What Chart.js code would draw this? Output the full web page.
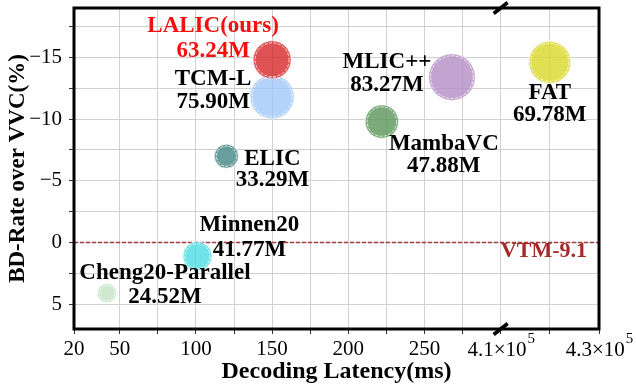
<!DOCTYPE html>
<html>
<head>
<meta charset="utf-8">
<script src="https://cdn.jsdelivr.net/npm/chart.js@4.4.1/dist/chart.umd.min.js"></script>
<style>
    html, body { margin: 0; padding: 0; background: #fff; }
    #wrap { width: 636px; height: 386px; }
</style>
</head>
<body>
<div id="wrap"><canvas id="chart" width="636" height="386"></canvas></div>
<script>
// 数据
const methods = ['Cheng20-Parallel', 'Minnen20', 'ELIC', 'TCM-L', 'MambaVC', 'MLIC++', 'FAT', 'LALIC(ours)'];
const params = ['24.52M', '41.77M', '33.29M', '75.90M', '47.88M', '83.27M', '69.78M', '63.24M'];
const latency = [41.6, 101, 120, 150, 222, 268, 420000, 150];      // ms
const bdRate = [4.1, 1.1, -7.0, -11.8, -9.8, -13.4, -14.6, -14.8];  // %
const bubbleR = [9.7, 14.5, 12, 22, 16.7, 23.3, 21, 19];
const vtmBdRate = 0;

// 刻度
const xTicks = [20, 50, 75, 100, 125, 150, 175, 200, 225, 250, 275, 410000, 420000, 430000];
const xTickLabels = ['20', '50', '', '100', '', '150', '', '200', '', '250', '', '4.1×10^5', '', '4.3×10^5'];
const yTicks = [-17.5, -15, -12.5, -10, -7.5, -5, -2.5, 0, 2.5, 5];
const yTickLabels = ['', '\u221215', '', '\u221210', '', '\u22125', '', '0', '', '5'];

// broken x axis: 300 ms on the left part meets 4.1e5 ms on the right part
const breakAt = 300, breakStart = 410000, breakEnd = 430000, breakWidth = 64.5;
function toAxis(v) {
    return v <= breakAt ? v : breakAt + (v - breakStart) / (breakEnd - breakStart) * breakWidth;
}

const colors = [
    'rgba(190, 225, 190, 0.75)',
    'rgba(75, 220, 225, 0.8)',
    'rgba(80, 140, 140, 0.85)',
    'rgba(160, 200, 250, 0.8)',
    'rgba(90, 150, 90, 0.8)',
    'rgba(180, 140, 195, 0.8)',
    'rgba(218, 215, 40, 0.8)',
    'rgba(214, 39, 40, 0.8)'
];
// label offsets from bubble centre: dx, dy line 1, dy line 2
const labelOffsets = [[58, -20, 4], [52, -31, -6], [46, 3, 24], [-59, -18, 5], [62, 22, 44], [-65, -15, 8], [0, 31, 53], [-59, -34, -9]];

const serif = "'Liberation Serif', 'Times New Roman', serif";

const decorPlugin = {
    id: 'decor',
    beforeDatasetsDraw(chart) {
        // VTM-9.1 baseline
        const ctx = chart.ctx, area = chart.chartArea;
        const y = chart.scales.y.getPixelForValue(vtmBdRate);
        ctx.save();
        ctx.strokeStyle = 'rgba(165, 42, 42, 0.9)';
        ctx.lineWidth = 1.5;
        ctx.setLineDash([4, 2]);
        ctx.beginPath();
        ctx.moveTo(area.left, y);
        ctx.lineTo(area.right, y);
        ctx.stroke();
        ctx.restore();
    },
    afterDatasetsDraw(chart) {
        const ctx = chart.ctx;
        const meta = chart.getDatasetMeta(0);
        ctx.save();
        // white dashed rings inside the bubbles
        meta.data.forEach((el, i) => {
            ctx.strokeStyle = 'rgba(255, 255, 255, 0.75)';
            ctx.lineWidth = 1;
            ctx.setLineDash([3, 1.5]);
            ctx.beginPath();
            ctx.arc(el.x, el.y, bubbleR[i] - 2, 0, Math.PI * 2);
            ctx.stroke();
        });
        ctx.setLineDash([]);
        // method names and sizes
        ctx.font = 'bold 23px ' + serif;
        ctx.textAlign = 'center';
        ctx.textBaseline = 'middle';
        meta.data.forEach((el, i) => {
            const off = labelOffsets[i];
            ctx.fillStyle = i === methods.length - 1 ? '#f51010' : '#000';
            ctx.fillText(methods[i], el.x + off[0], el.y + off[1]);
            ctx.fillText(params[i], el.x + off[0], el.y + off[2]);
        });
        ctx.restore();
    },
    afterDraw(chart) {
        const ctx = chart.ctx, area = chart.chartArea;
        const xs = chart.scales.x, ys = chart.scales.y;
        ctx.save();
        // VTM label
        ctx.font = 'bold 22px ' + serif;
        ctx.fillStyle = '#a52a2a';
        ctx.textAlign = 'right';
        ctx.textBaseline = 'middle';
        ctx.fillText('VTM-9.1', area.right - 12, ys.getPixelForValue(vtmBdRate) + 9);

        // frame
        ctx.strokeStyle = '#000';
        ctx.lineWidth = 3;
        ctx.strokeRect(area.left, area.top, area.right - area.left, area.bottom - area.top);

        // break marks
        const bx = xs.getPixelForValue(breakAt);
        ctx.lineWidth = 3.5;
        [area.top, area.bottom].forEach(y => {
            ctx.beginPath();
            ctx.moveTo(bx - 7, y + 5.5);
            ctx.lineTo(bx + 7, y - 5.5);
            ctx.stroke();
        });

        // tick labels with exponent
        ctx.fillStyle = '#000';
        ctx.textAlign = 'left';
        ctx.textBaseline = 'alphabetic';
        xTickLabels.forEach((lab, i) => {
            if (lab.indexOf('^') < 0) return;
            const parts = lab.split('^');
            ctx.font = '21px ' + serif;
            const w1 = ctx.measureText(parts[0]).width;
            ctx.font = '15px ' + serif;
            const w2 = ctx.measureText(parts[1]).width;
            const x0 = xs.getPixelForValue(toAxis(xTicks[i])) - (w1 + w2) / 2;
            ctx.font = '21px ' + serif;
            ctx.fillText(parts[0], x0, 356);
            ctx.font = '15px ' + serif;
            ctx.fillText(parts[1], x0 + w1 + 1, 343);
        });

        // axis titles
        ctx.font = 'bold 24px ' + serif;
        ctx.textAlign = 'center';
        ctx.textBaseline = 'middle';
        ctx.fillText('Decoding Latency(ms)', (area.left + area.right) / 2, 372);
        ctx.font = 'bold 23px ' + serif;
        ctx.translate(18, (area.top + area.bottom) / 2);
        ctx.rotate(-Math.PI / 2);
        ctx.fillText('BD-Rate over VVC(%)', 0, 0);
        ctx.restore();
    }
};

const points = latency.map((v, i) => ({ x: toAxis(v), y: bdRate[i], r: bubbleR[i] }));

new Chart(document.getElementById('chart').getContext('2d'), {
    type: 'bubble',
    data: {
        datasets: [{
            data: points,
            backgroundColor: colors,
            borderColor: 'rgba(255, 255, 255, 0.6)',
            borderWidth: 1
        }]
    },
    options: {
        responsive: false,
        animation: false,
        layout: { autoPadding: false, padding: { left: 0, right: 37, top: 8, bottom: 0 } },
        plugins: {
            legend: { display: false },
            tooltip: { enabled: false }
        },
        scales: {
            x: {
                type: 'linear',
                min: 20,
                max: toAxis(breakEnd),
                afterBuildTicks: scale => { scale.ticks = xTicks.map(v => ({ value: toAxis(v) })); },
                afterFit: scale => {
                    scale.height = 57;
                    scale.paddingLeft = 0;
                    scale.paddingRight = 0;
                },
                border: { display: false },
                grid: { color: '#d0d0d0', lineWidth: 1, tickColor: '#333', tickLength: 5, tickWidth: 1 },
                ticks: {
                    autoSkip: false,
                    maxRotation: 0,
                    padding: 3,
                    color: '#000',
                    font: { family: serif, size: 21 },
                    callback: (v, i) => (xTickLabels[i] || '').indexOf('^') >= 0 ? '' : xTickLabels[i]
                }
            },
            y: {
                type: 'linear',
                reverse: true,
                min: -19,
                max: 7,
                afterBuildTicks: scale => { scale.ticks = yTicks.map(v => ({ value: v })); },
                afterFit: scale => {
                    scale.width = 74;
                    scale.paddingTop = 0;
                    scale.paddingBottom = 0;
                },
                border: { display: false },
                grid: { color: '#d0d0d0', lineWidth: 1, tickColor: '#333', tickLength: 5, tickWidth: 1 },
                ticks: {
                    autoSkip: false,
                    padding: 7,
                    color: '#000',
                    font: { family: serif, size: 21 },
                    callback: (v, i) => yTickLabels[i]
                }
            }
        }
    },
    plugins: [decorPlugin]
});
</script>
</body>
</html>
